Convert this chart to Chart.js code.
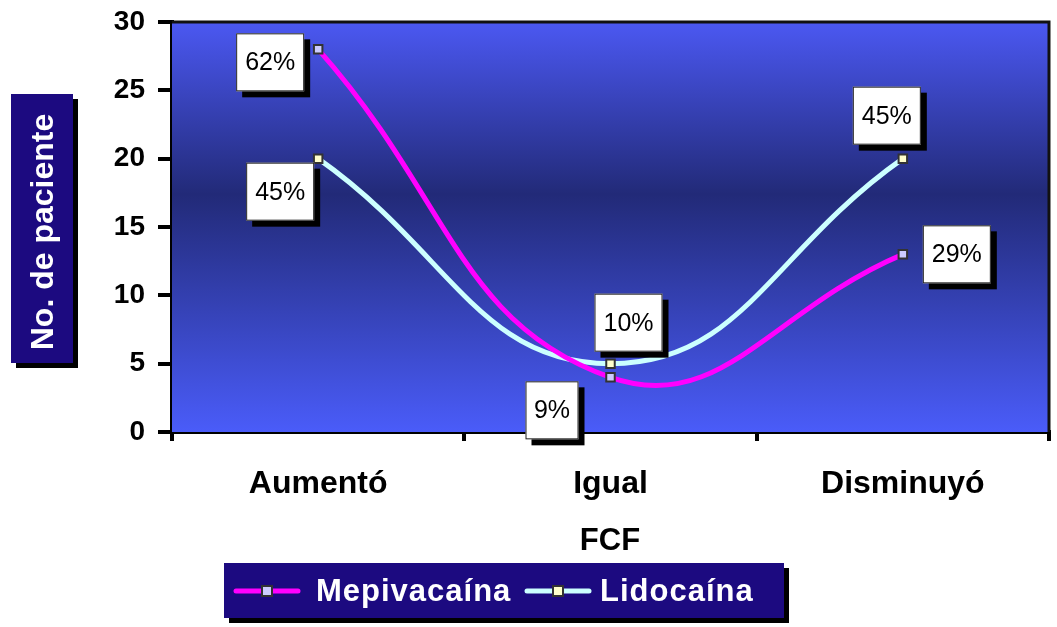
<!DOCTYPE html>
<html lang="es">
<head>
  <meta charset="UTF-8" />
  <title>FCF - No. de paciente</title>
  <script src="https://cdn.jsdelivr.net/npm/chart.js"></script>
  <style>
    html, body { margin: 0; padding: 0; background: #fff; }
    #wrap { position: relative; width: 1057px; height: 627px; }
  </style>
</head>
<body>
<div id="wrap">
  <canvas id="fcfChart" width="1057" height="627"></canvas>
</div>

<script>
// data
const categories = ['Aumentó', 'Igual', 'Disminuyó'];
const mepivacaina = [28, 4, 13];
const lidocaina = [20, 5, 20];
const mepiLabels = ['62%', '9%', '29%'];
const lidoLabels = ['45%', '10%', '45%'];
const yTicks = [0, 5, 10, 15, 20, 25, 30];

// where each label box sits relative to its point (dx, dy of box top-left)
const mepiBoxOffset = [[-82, -16], [-85, 4], [20, -29]];
const lidoBoxOffset = [[-72, 4], [-16, -70], [-50, -72]];

const FONT = '"Liberation Sans", Arial, sans-serif';

function shadowBox(ctx, x, y, w, h, fill, off) {
  ctx.fillStyle = '#000';
  ctx.fillRect(x + off, y + off, w, h);
  ctx.fillStyle = fill;
  ctx.fillRect(x, y, w, h);
}

function drawMarker(ctx, x, y, fill) {
  ctx.fillStyle = '#333';
  ctx.fillRect(x - 6, y - 6, 12, 12);
  ctx.fillStyle = fill;
  ctx.fillRect(x - 4, y - 4, 8, 8);
}

const plotBg = {
  id: 'plotBg',
  beforeDatasetsDraw(chart) {
    const { ctx, chartArea: a } = chart;
    const g = ctx.createLinearGradient(0, a.top, 0, a.bottom);
    g.addColorStop(0, '#4b58f2');
    g.addColorStop(0.42, '#222a78');
    g.addColorStop(1, '#4a5cf9');
    ctx.save();
    ctx.fillStyle = g;
    ctx.fillRect(a.left, a.top, a.right - a.left, a.bottom - a.top);
    ctx.strokeStyle = '#111';
    ctx.lineWidth = 3;
    ctx.beginPath();
    ctx.moveTo(a.left, a.top);
    ctx.lineTo(a.right, a.top);
    ctx.lineTo(a.right, a.bottom);
    ctx.stroke();
    ctx.restore();
  }
};

const decor = {
  id: 'decor',
  afterDraw(chart) {
    const { ctx } = chart;
    ctx.save();

    // data label boxes
    const sets = [[0, mepiLabels, mepiBoxOffset], [1, lidoLabels, lidoBoxOffset]];
    ctx.font = '25px ' + FONT;
    ctx.textAlign = 'center';
    ctx.textBaseline = 'middle';
    sets.forEach(([di, labels, offs]) => {
      const meta = chart.getDatasetMeta(di);
      meta.data.forEach((pt, i) => {
        const bx = pt.x + offs[i][0], by = pt.y + offs[i][1];
        const w = labels[i].length > 2 ? 68 : 53, h = 58;
        shadowBox(ctx, bx, by, w, h, '#fff', 6);
        ctx.strokeStyle = '#222';
        ctx.lineWidth = 1;
        ctx.strokeRect(bx + 0.5, by + 0.5, w - 1, h - 1);
        ctx.fillStyle = '#000';
        ctx.fillText(labels[i], bx + w / 2, by + h / 2 + 1);
      });
    });

    // y axis title box
    shadowBox(ctx, 11, 94, 62, 269, '#1c0a80', 5);
    ctx.translate(44, 232);
    ctx.rotate(-Math.PI / 2);
    ctx.fillStyle = '#fff';
    ctx.font = 'bold 32px ' + FONT;
    ctx.fillText('No. de paciente', 0, 0);
    ctx.setTransform(1, 0, 0, 1, 0, 0);

    // x axis title
    ctx.fillStyle = '#000';
    ctx.font = 'bold 31px ' + FONT;
    ctx.fillText('FCF', 610, 541);

    // legend
    shadowBox(ctx, 224, 563, 560, 55, '#1c0a80', 5);
    const items = [
      { text: 'Mepivacaína', color: '#ff00ff', fill: '#ccccff', x: 236, tx: 316 },
      { text: 'Lidocaína', color: '#ccffff', fill: '#ffffcc', x: 527, tx: 600 }
    ];
    ctx.font = 'bold 31px ' + FONT;
    ctx.letterSpacing = '1px';
    ctx.textAlign = 'left';
    items.forEach(it => {
      const y = 591;
      ctx.strokeStyle = it.color;
      ctx.lineWidth = 5;
      ctx.lineCap = 'round';
      ctx.beginPath();
      ctx.moveTo(it.x, y);
      ctx.lineTo(it.x + 62, y);
      ctx.stroke();
      drawMarker(ctx, it.x + 31, y, it.fill);
      ctx.fillStyle = '#fff';
      ctx.fillText(it.text, it.tx, y + 1);
    });
    ctx.restore();
  }
};

new Chart(document.getElementById('fcfChart'), {
  type: 'line',
  data: {
    labels: categories,
    datasets: [
      {
        label: 'Mepivacaína',
        data: mepivacaina,
        borderColor: '#ff00ff',
        borderWidth: 5,
        tension: 0.45,
        pointStyle: 'rect',
        pointRadius: 6,
        pointBorderWidth: 2,
        pointBorderColor: '#333',
        pointBackgroundColor: '#ccccff'
      },
      {
        label: 'Lidocaína',
        data: lidocaina,
        borderColor: '#ccffff',
        borderWidth: 5,
        tension: 0.45,
        pointStyle: 'rect',
        pointRadius: 6,
        pointBorderWidth: 2,
        pointBorderColor: '#333',
        pointBackgroundColor: '#ffffcc'
      }
    ]
  },
  options: {
    responsive: false,
    animation: false,
    layout: { padding: { top: 22, right: 7, left: 0, bottom: 0 } },
    plugins: { legend: { display: false }, tooltip: { enabled: false } },
    scales: {
      x: {
        offset: true,
        grid: { offset: true, drawOnChartArea: false, color: '#000', lineWidth: 4, tickLength: 9 },
        border: { color: '#000', width: 4 },
        ticks: { color: '#000', font: { family: FONT, size: 32, weight: 'bold' }, padding: 24 },
        afterFit(s) { s.height = 195; s.paddingLeft = 0; s.paddingRight = 0; }
      },
      y: {
        min: 0,
        max: 30,
        afterBuildTicks(s) { s.ticks = yTicks.map(v => ({ value: v })); },
        grid: { drawOnChartArea: false, color: '#000', lineWidth: 4, tickLength: 14 },
        border: { color: '#000', width: 4 },
        ticks: { color: '#000', font: { family: FONT, size: 28, weight: 'bold' }, padding: 13 },
        afterFit(s) { s.width = 172; s.paddingTop = 0; s.paddingBottom = 0; }
      }
    }
  },
  plugins: [plotBg, decor]
});
</script>
</body>
</html>
